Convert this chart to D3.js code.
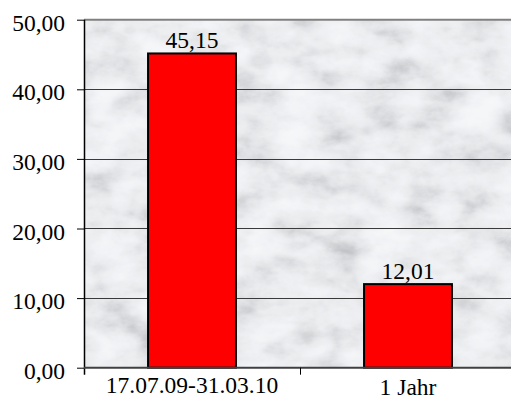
<!DOCTYPE html>
<html>
<head>
<meta charset="utf-8">
<script src="https://cdn.jsdelivr.net/npm/d3@7"></script>
<style>
  html, body { margin: 0; padding: 0; background: #fff; overflow: hidden; }
</style>
</head>
<body>
<div id="chart"></div>
<script>
// data
let categories = ["17.07.09-31.03.10", "1 Jahr"];
let values = [45.15, 12.01];
let yTicks = [0, 10, 20, 30, 40, 50];

let W = 511, H = 396;
let plotLeft = 84, plotRight = 516, plotTop = 19.7, plotBottom = 367.7;
let serif = "'Liberation Serif'";
let fontSize = "23.5px";

let fmt = v => d3.format(".2f")(v).replace(".", ",");

let svg = d3.select("#chart").append("svg")
    .attr("width", W)
    .attr("height", H)
    .style("display", "block");

// marble look for the plot background
let defs = svg.append("defs");
let f = defs.append("filter").attr("id", "marble")
    .attr("x", 0).attr("y", 0).attr("width", 1).attr("height", 1)
    .attr("filterUnits", "objectBoundingBox");
f.append("feTurbulence")
    .attr("type", "fractalNoise")
    .attr("baseFrequency", "0.022 0.035")
    .attr("numOctaves", 6)
    .attr("seed", 4)
    .attr("result", "t");
f.append("feColorMatrix")
    .attr("in", "t")
    .attr("type", "matrix")
    .attr("values", "0.5 0.5 0 0 0  0.5 0.5 0 0 0  0.5 0.5 0 0 0  0 0 0 0 1")
    .attr("result", "g");
let ct = f.append("feComponentTransfer").attr("in", "g");
ct.append("feFuncR").attr("type", "table").attr("tableValues", "0.4 0.45 0.52 0.63 0.75 0.83 0.88 0.91 0.93 0.94 0.95");
ct.append("feFuncG").attr("type", "table").attr("tableValues", "0.41 0.46 0.53 0.64 0.76 0.84 0.89 0.92 0.94 0.95 0.96");
ct.append("feFuncB").attr("type", "table").attr("tableValues", "0.43 0.48 0.55 0.66 0.78 0.86 0.91 0.94 0.96 0.97 0.98");

let y = d3.scaleLinear().domain([0, 50]).range([plotBottom, plotTop]);
let xBand = d3.scaleBand().domain(categories).range([plotLeft, plotRight]);
let xBar = d3.scaleBand().domain(categories).range([plotLeft, plotRight])
    .paddingInner(0.593).paddingOuter(0.2965);

svg.append("rect")
    .attr("x", plotLeft).attr("y", plotTop)
    .attr("width", plotRight - plotLeft).attr("height", plotBottom - plotTop)
    .attr("fill", "#e4e6e8")
    .attr("filter", "url(#marble)");

// gridlines
svg.append("g").selectAll("line")
    .data(yTicks.filter(d => d > 0 && d < 50))
    .join("line")
    .attr("x1", plotLeft).attr("x2", plotRight)
    .attr("y1", d => Math.round(y(d)) + 0.5).attr("y2", d => Math.round(y(d)) + 0.5)
    .attr("stroke", "#3a3a3a").attr("stroke-width", 1);

// top border
svg.append("line")
    .attr("x1", plotLeft).attr("x2", plotRight)
    .attr("y1", y(50)).attr("y2", y(50))
    .attr("stroke", "#808080").attr("stroke-width", 2);

// bars
svg.append("g").selectAll("rect")
    .data(values)
    .join("rect")
    .attr("x", (d, i) => xBar(categories[i]))
    .attr("y", d => y(d))
    .attr("width", xBar.bandwidth())
    .attr("height", d => y(0) - y(d))
    .attr("fill", "#ff0000")
    .attr("stroke", "#000")
    .attr("stroke-width", 2);

// value labels
svg.append("g").selectAll("text")
    .data(values)
    .join("text")
    .attr("x", (d, i) => xBar(categories[i]) + xBar.bandwidth() / 2)
    .attr("y", d => y(d) - 5.5)
    .attr("text-anchor", "middle")
    .style("font-family", serif)
    .style("font-size", fontSize)
    .text(d => fmt(d));

// y axis
let yAxis = svg.append("g")
    .attr("transform", "translate(" + plotLeft + ",0)")
    .call(d3.axisLeft(y).tickValues(yTicks).tickSize(7).tickPadding(12).tickFormat(fmt));
yAxis.select(".domain").remove();
yAxis.selectAll(".tick line").attr("stroke", "#000");
yAxis.selectAll(".tick text")
    .attr("dy", null).attr("y", 10.5)
    .attr("fill", "#000")
    .style("font-family", serif).style("font-size", fontSize);
svg.append("line")
    .attr("x1", plotLeft + 0.5).attr("x2", plotLeft + 0.5)
    .attr("y1", plotTop).attr("y2", plotBottom + 7)
    .attr("stroke", "#000").attr("stroke-width", 1.5);

// x axis
svg.append("line")
    .attr("x1", plotLeft).attr("x2", plotRight)
    .attr("y1", plotBottom).attr("y2", plotBottom)
    .attr("stroke", "#404040").attr("stroke-width", 2);
svg.append("g").selectAll("line")
    .data(categories.slice(1))
    .join("line")
    .attr("x1", d => xBand(d) + 0.5).attr("x2", d => xBand(d) + 0.5)
    .attr("y1", plotBottom).attr("y2", plotBottom + 7)
    .attr("stroke", "#000");
svg.append("g").selectAll("text")
    .data(categories)
    .join("text")
    .attr("x", d => xBand(d) + xBand.bandwidth() / 2)
    .attr("y", (d, i) => 393 + i * 2)
    .attr("text-anchor", "middle")
    .style("font-family", serif)
    .style("font-size", fontSize)
    .text(d => d);
</script>
</body>
</html>
